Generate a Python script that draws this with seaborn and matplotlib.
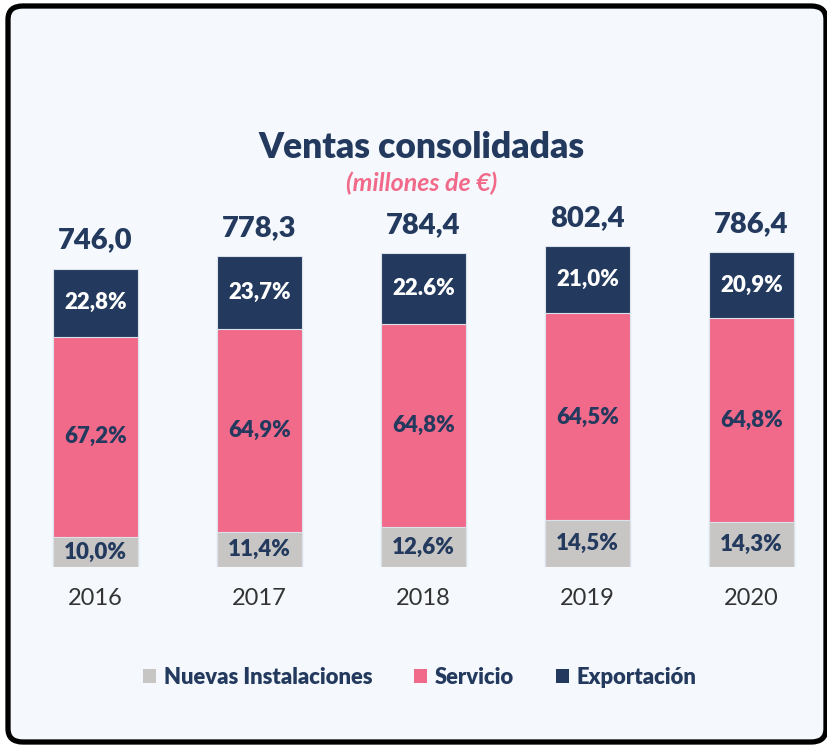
import matplotlib
matplotlib.use("Agg")
import matplotlib.pyplot as plt
import seaborn as sns
import pandas as pd
import numpy as np
from matplotlib.patches import FancyBboxPatch, Patch

years = ["2016", "2017", "2018", "2019", "2020"]
totals = [746.0, 778.3, 784.4, 802.4, 786.4]
total_labels = ["746,0", "778,3", "784,4", "802,4", "786,4"]
nuevas_pct = [10.0, 11.4, 12.6, 14.5, 14.3]
servicio_pct = [67.2, 64.9, 64.8, 64.5, 64.8]
export_pct = [22.8, 23.7, 22.6, 21.0, 20.9]
nuevas_labels = ["10,0%", "11,4%", "12,6%", "14,5%", "14,3%"]
servicio_labels = ["67,2%", "64,9%", "64,8%", "64,5%", "64,8%"]
export_labels = ["22,8%", "23,7%", "22.6%", "21,0%", "20,9%"]
series_names = ["Nuevas Instalaciones", "Servicio", "Exportación"]

NAVY = "#233A5E"
PINK = "#F26A8A"
GRAY = "#C8C6C4"
BG = "#F5F9FD"

sns.set_theme(style="white")
plt.rcParams["font.family"] = ["Lato", "DejaVu Sans"]

df = pd.DataFrame({"year": years, "total": totals,
                   "n": nuevas_pct, "s": servicio_pct, "e": export_pct})
df["nv"] = df["total"] * df["n"] / 100
df["sv"] = df["total"] * df["s"] / 100
df["ev"] = df["total"] * df["e"] / 100
df["cum_ns"] = df["nv"] + df["sv"]
df["cum_all"] = df["cum_ns"] + df["ev"]

W, H = 827, 745
fig = plt.figure(figsize=(W / 100, H / 100), dpi=100)
fig.patch.set_facecolor("white")

# rounded frame
frame = FancyBboxPatch((8 / W, 3 / H), (826 - 8) / W, (739 - 3) / H,
                       boxstyle="round,pad=0,rounding_size=0.018",
                       transform=fig.transFigure, facecolor=BG,
                       edgecolor="black", linewidth=3.8, zorder=-5)
fig.patches.append(frame)

# axes placement: bar baseline at y=567px, 0.4 px per unit
ax_bottom_px = 567
ax_top_px = 200
ax = fig.add_axes([20 / W, (H - ax_bottom_px) / H, 800 / W,
                   (ax_bottom_px - ax_top_px) / H])
ax.set_zorder(2)
ax.set_facecolor("none")
x_left = (20 - 95.5) / 164
x_right = (820 - 95.5) / 164

bw = 0.52
edge = dict(edgecolor="#DCE2EA", linewidth=0.8)
sns.barplot(data=df, x="year", y="cum_all", color=NAVY, width=bw,
            saturation=1, ax=ax, **edge)
sns.barplot(data=df, x="year", y="cum_ns", color=PINK, width=bw,
            saturation=1, ax=ax, **edge)
sns.barplot(data=df, x="year", y="nv", color=GRAY, width=bw,
            saturation=1, ax=ax, **edge)
ax.set_xlim(x_left, x_right)
ax.set_ylim(0, (ax_bottom_px - ax_top_px) / 0.4)

lab_kw = dict(ha="center", va="center", fontsize=16, fontweight="heavy")
for i in range(len(years)):
    nv, cns, ca = df.loc[i, "nv"], df.loc[i, "cum_ns"], df.loc[i, "cum_all"]
    ax.text(i, nv / 2, nuevas_labels[i], color=NAVY, **lab_kw)
    ax.text(i, (nv + cns) / 2, servicio_labels[i], color=NAVY, **lab_kw)
    ax.text(i, (cns + ca) / 2, export_labels[i], color="white", **lab_kw)
    ax.text(i, ca + 70, total_labels[i], ha="center", va="center",
            color=NAVY, fontsize=21, fontweight="heavy", clip_on=False)

ax.set_xlabel("")
ax.set_ylabel("")
ax.set_yticks([])
ax.tick_params(axis="x", length=0, pad=15, labelsize=17, labelcolor="#333333")
for sp in ax.spines.values():
    sp.set_visible(False)

fig.text(422 / W, 1 - 147 / H, "Ventas consolidadas", ha="center", va="center",
         fontsize=25.5, fontweight="heavy", color=NAVY)
fig.text(422 / W, 1 - 183 / H, "(millones de €)", ha="center", va="center",
         fontsize=18, fontweight="bold", style="italic", color=PINK)

handles = [Patch(facecolor=GRAY, edgecolor="none"),
           Patch(facecolor=PINK, edgecolor="none"),
           Patch(facecolor=NAVY, edgecolor="none")]
leg = fig.legend(handles, series_names, loc="center", ncol=3,
                 bbox_to_anchor=(420 / W, 1 - 677 / H), frameon=False,
                 handlelength=0.6, handleheight=0.6, handletextpad=0.35,
                 columnspacing=1.9,
                 prop={"size": 15.8, "weight": "heavy"})
for t in leg.get_texts():
    t.set_color(NAVY)

fig.savefig("out.png", dpi=100, facecolor="white")
